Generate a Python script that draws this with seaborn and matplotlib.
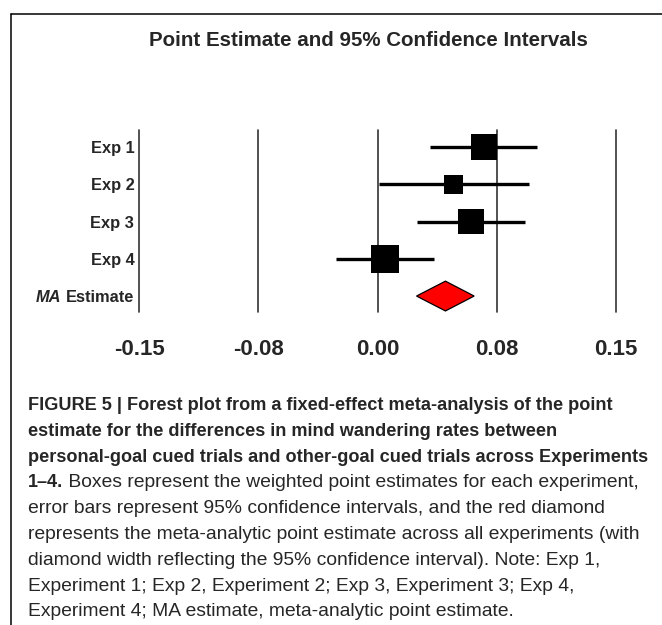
import numpy as np
import pandas as pd
import matplotlib
matplotlib.use("Agg")
import matplotlib.pyplot as plt
import seaborn as sns
from matplotlib.patches import Polygon
from matplotlib.lines import Line2D

# Per-experiment point estimates, 95% CIs and meta-analytic weights (%)
studies = ["Exp 1", "Exp 2", "Exp 3", "Exp 4"]
estimates = [0.0690, 0.0495, 0.0608, 0.0051]
ci_lower = [0.0340, 0.0007, 0.0256, -0.0267]
ci_upper = [0.1041, 0.0983, 0.0963, 0.0368]
weights = [27.3, 13.8, 26.6, 32.3]

# Fixed-effect meta-analytic estimate
ma_estimate = 0.0442
ma_ci_lower = 0.0254
ma_ci_upper = 0.0629

tick_values = [-0.155, -0.0775, 0.0, 0.0775, 0.155]
tick_labels = ["-0.15", "-0.08", "0.00", "0.08", "0.15"]

title = "Point Estimate and 95% Confidence Intervals"
caption_bold = [
    "FIGURE 5 | Forest plot from a fixed-effect meta-analysis of the point",
    "estimate for the differences in mind wandering rates between",
    "personal-goal cued trials and other-goal cued trials across Experiments",
]
caption_lead = "1\u20134."
caption_regular = [
    " Boxes represent the weighted point estimates for each experiment,",
    "error bars represent 95% confidence intervals, and the red diamond",
    "represents the meta-analytic point estimate across all experiments (with",
    "diamond width reflecting the 95% confidence interval). Note: Exp 1,",
    "Experiment 1; Exp 2, Experiment 2; Exp 3, Experiment 3; Exp 4,",
    "Experiment 4; MA estimate, meta-analytic point estimate.",
]

sns.set_style("white")
plt.rcParams["font.family"] = ["Liberation Sans", "DejaVu Sans"]

W, H = 662, 625
fig = plt.figure(figsize=(W / 100, H / 100), dpi=100)
fig.patch.set_facecolor("white")

# axes box in pixel units (left, top, right, bottom)
left, top, right, bottom = 139.3, 130.0, 615.7, 311.7
ax = fig.add_axes([left / W, 1 - bottom / H, (right - left) / W, (bottom - top) / H])

df = pd.DataFrame({
    "study": studies,
    "estimate": estimates,
    "lo": ci_lower,
    "hi": ci_upper,
    "weight": weights,
    "row": np.arange(len(studies)),
})
ma_row = len(studies)

# vertical reference lines at each tick
for v in tick_values:
    ax.axvline(v, color="#333333", lw=1.2, zorder=0, clip_on=False)

# confidence-interval whiskers
ax.hlines(df["row"], df["lo"], df["hi"], color="black", lw=2.4, zorder=2)

# weighted squares: area proportional to weight
area_per_weight = 12.84
wmin, wmax = min(weights), max(weights)
sns.scatterplot(data=df, x="estimate", y="row", size="weight",
                sizes=(area_per_weight * wmin, area_per_weight * wmax),
                size_norm=(wmin, wmax), marker="s", color="black",
                linewidth=0, legend=False, ax=ax, zorder=3)

# meta-analytic diamond
half_h = 0.40
diamond = Polygon([(ma_ci_lower, ma_row), (ma_estimate, ma_row - half_h),
                   (ma_ci_upper, ma_row), (ma_estimate, ma_row + half_h)],
                  closed=True, facecolor="#ff0000", edgecolor="black",
                  lw=0.9, zorder=3)
ax.add_patch(diamond)

ax.set_xlim(tick_values[0], tick_values[-1])
ax.set_ylim(4.42, -0.456)
ax.set_xlabel("")
ax.set_ylabel("")
for s in ax.spines.values():
    s.set_visible(False)

ax.set_xticks(tick_values)
ax.set_xticklabels(tick_labels, fontsize=16, fontweight="bold")
ax.set_yticks(list(range(ma_row + 1)))
ax.set_yticklabels(studies + ["Estimate"], fontsize=11.8, fontweight="bold")
ax.tick_params(axis="x", length=0, pad=20)
ax.tick_params(axis="y", length=0, pad=3.6)

ma_label = ax.get_yticklabels()[-1]
ax.annotate("MA", xy=(0, 0), xycoords=ma_label, xytext=(-3.3, 0),
            textcoords="offset points", ha="right", va="bottom",
            fontsize=11.8, fontweight="bold", fontstyle="italic")

fig.text(368 / W, 1 - 40 / H, title, ha="center", va="center",
         fontsize=14.8, fontweight="bold")

# frame lines on the left and top
fig.add_artist(Line2D([11 / W, 11 / W], [1 - 14 / H, 0], transform=fig.transFigure,
                      color="black", lw=1.1))
fig.add_artist(Line2D([11 / W, 1], [1 - 14 / H, 1 - 14 / H], transform=fig.transFigure,
                      color="black", lw=1.1))

# caption
cap_x = 28 / W
base0, step = 410.0, 25.8
bold_size = 13.1
reg_size = 13.9
i = 0
for line in caption_bold:
    fig.text(cap_x, 1 - (base0 + step * i) / H, line, ha="left", va="baseline",
             fontsize=bold_size, fontweight="bold")
    i += 1
y_lead = 1 - (base0 + step * i) / H
lead = fig.text(cap_x, y_lead, caption_lead, ha="left",
                va="baseline", fontsize=bold_size, fontweight="bold")
fig.canvas.draw()
lead_right = lead.get_window_extent().x1 / (W)
fig.text(lead_right, y_lead, caption_regular[0], ha="left", va="baseline",
         fontsize=reg_size)
i += 1
for line in caption_regular[1:]:
    fig.text(cap_x, 1 - (base0 + step * i) / H, line, ha="left", va="baseline",
             fontsize=reg_size)
    i += 1

fig.savefig("out.png", dpi=100, facecolor="white")
